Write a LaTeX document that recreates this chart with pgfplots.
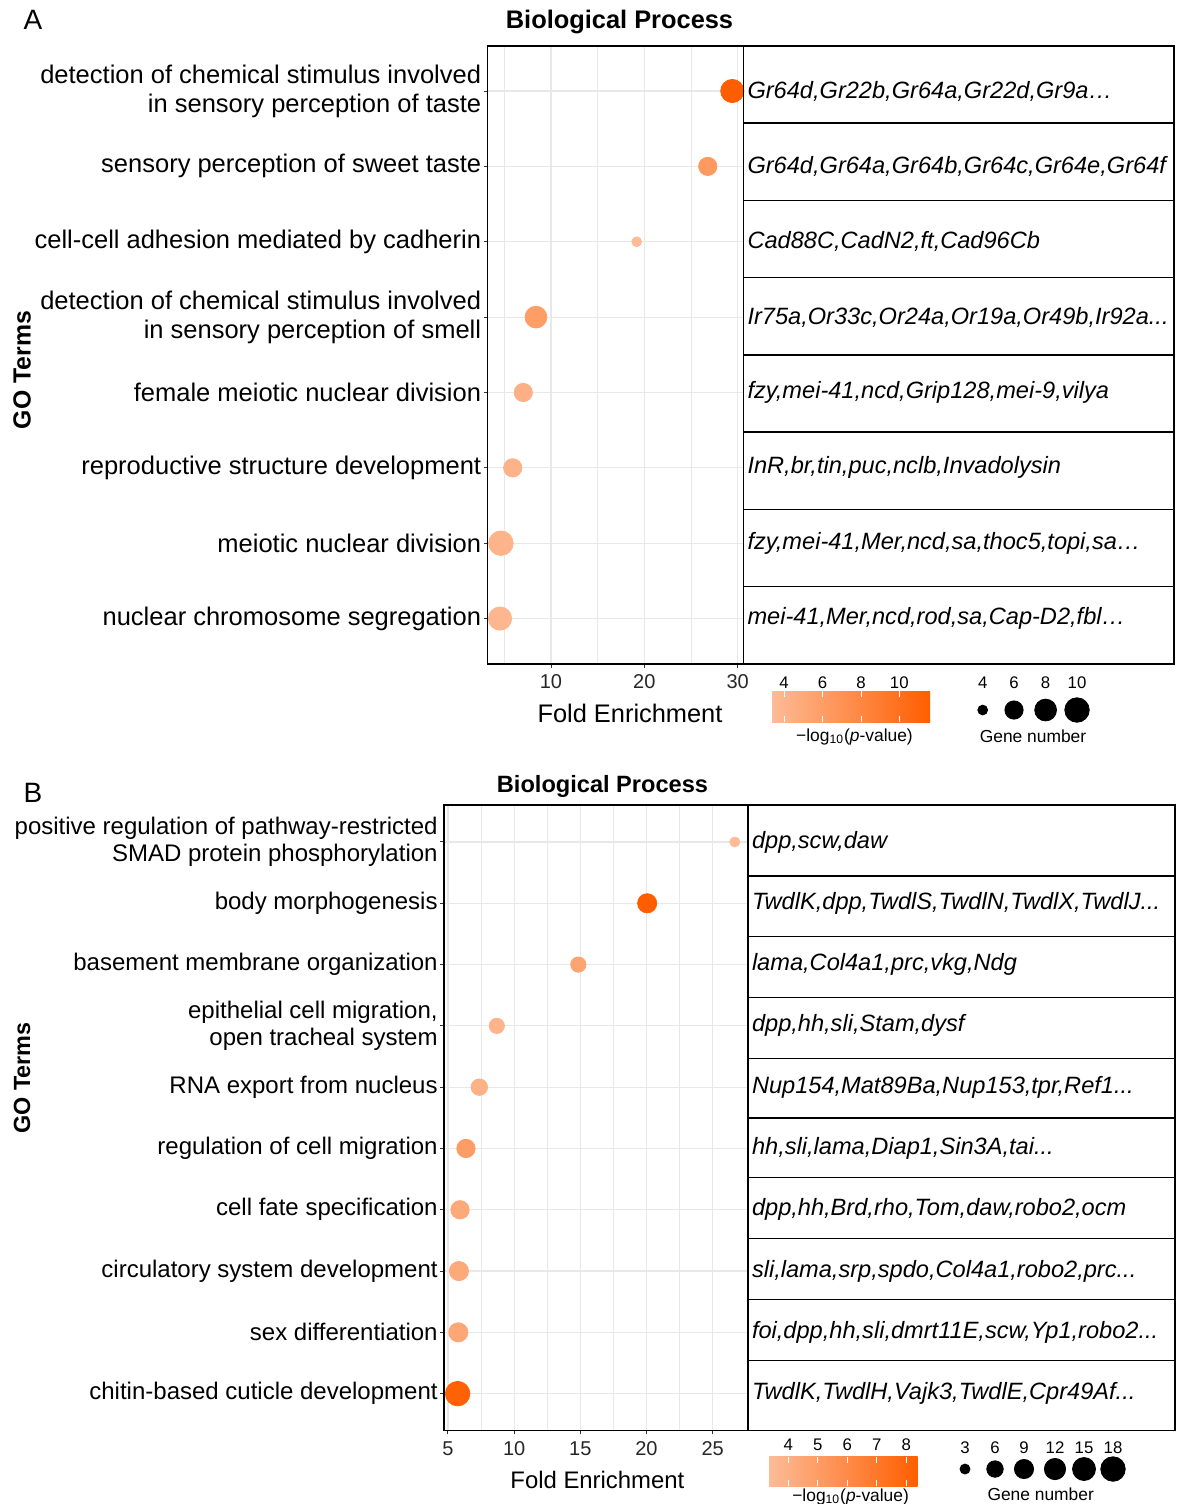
\documentclass[border=0pt]{standalone}
\usepackage{pgfplots}
\pgfplotsset{compat=1.18}
\usepackage{fontspec}
\setmainfont{Liberation Sans}
\definecolor{lo}{RGB}{253,187,151}
\definecolor{hi}{RGB}{255,94,0}
\definecolor{gridc}{RGB}{232,232,232}
\newcommand\fs[2]{\fontsize{#1}{#2}\selectfont}
\pgfplotsset{
 bubble/.style={
  scale only axis, clip=false,
  axis line style={line width=0.8pt},
  tick pos=left, tick align=outside, major tick length=2pt, minor tick length=0pt,
  tick style={line width=0.5pt, color=black!80},
  grid=both, major grid style={gridc, line width=0.6pt}, minor grid style={gridc, line width=0.45pt},
  /pgf/number format/assume math mode=true,
  xticklabel style={font=\fs{10}{12}, text=black!85},
  colormap={go}{rgb255=(253,187,151) rgb255=(255,94,0)},
 },
 gtable/.style={
  scale only axis, clip=false, xmin=0, xmax=1, xtick=\empty, ytick=\empty,
  axis line style={line width=0.8pt},
 },
}
\tikzset{
 gene/.style={anchor=west, font=\itshape\fs{11.8}{13}, inner xsep=1.8pt},
 lab/.style={font=\fs{8.4}{10}},
}
\begin{document}
\begin{tikzpicture}

% ---------------- Panel A ----------------
\begin{axis}[bubble, at={(243.75pt,-22.9pt)}, anchor=north west,
  width=128pt, height=309pt,
  xmin=3.198, xmax=30.62, ymin=0.4, ymax=8.6,
  xtick={10,20,30}, minor xtick={5,15,25},
  ytick={1,...,8},
  yticklabels={nuclear chromosome segregation, meiotic nuclear division, reproductive structure development, female meiotic nuclear division, {detection of chemical stimulus involved\\in sensory perception of smell}, cell-cell adhesion mediated by cadherin, sensory perception of sweet taste, {detection of chemical stimulus involved\\in sensory perception of taste}},
  yticklabel style={font=\fs{12.75}{14.5}, align=right, inner xsep=1pt},
  point meta min=3.37, point meta max=11.6]
\addplot[scatter, only marks, mark=*, scatter src=explicit,
  scatter/use mapped color={draw=mapped color, fill=mapped color},
  visualization depends on={(9.8+6*sqrt(\thisrow{n}-4))/4 \as \msz},
  scatter/@pre marker code/.append style={/tikz/mark size=\msz}]
 table[x=fe, y=pos, meta=lp]{
fe pos n lp
29.42 8 9 11.6
26.79 7 6 6.3
19.18 6 4 3.37
8.39 5 8 6.0
7.03 4 6 4.3
5.90 3 6 4.2
4.64 2 10 4.0
4.54 1 9 3.8
};
\end{axis}

\begin{axis}[gtable, at={(371.75pt,-22.9pt)}, anchor=north west,
  width=215.25pt, height=309pt, ymin=0.4, ymax=8.6]
\draw[line width=0.75pt] (rel axis cs:0,0.125) -- (rel axis cs:1,0.125);
\draw[line width=0.75pt] (rel axis cs:0,0.25) -- (rel axis cs:1,0.25);
\draw[line width=0.75pt] (rel axis cs:0,0.375) -- (rel axis cs:1,0.375);
\draw[line width=0.75pt] (rel axis cs:0,0.5) -- (rel axis cs:1,0.5);
\draw[line width=0.75pt] (rel axis cs:0,0.625) -- (rel axis cs:1,0.625);
\draw[line width=0.75pt] (rel axis cs:0,0.75) -- (rel axis cs:1,0.75);
\draw[line width=0.75pt] (rel axis cs:0,0.875) -- (rel axis cs:1,0.875);
\node[gene] at (axis cs:0,8) {Gr64d,Gr22b,Gr64a,Gr22d,Gr9a…};
\node[gene] at (axis cs:0,7) {Gr64d,Gr64a,Gr64b,Gr64c,Gr64e,Gr64f};
\node[gene] at (axis cs:0,6) {Cad88C,CadN2,ft,Cad96Cb};
\node[gene] at (axis cs:0,5) {Ir75a,Or33c,Or24a,Or19a,Or49b,Ir92a...};
\node[gene] at (axis cs:0,4) {fzy,mei-41,ncd,Grip128,mei-9,vilya};
\node[gene] at (axis cs:0,3) {InR,br,tin,puc,nclb,Invadolysin};
\node[gene] at (axis cs:0,2) {fzy,mei-41,Mer,ncd,sa,thoc5,topi,sa…};
\node[gene] at (axis cs:0,1) {mei-41,Mer,ncd,rod,sa,Cap-D2,fbl…};
\end{axis}

% ---------------- Panel B ----------------
\begin{axis}[bubble, at={(222pt,-402.6pt)}, anchor=north west,
  width=152pt, height=312.6pt,
  xmin=4.70, xmax=27.67, ymin=0.4, ymax=10.6,
  xtick={5,10,15,20,25}, minor xtick={7.5,12.5,17.5,22.5},
  ytick={1,...,10},
  yticklabels={chitin-based cuticle development, sex differentiation, circulatory system development, cell fate specification, regulation of cell migration, RNA export from nucleus, {epithelial cell migration,\\open tracheal system}, basement membrane organization, body morphogenesis, {positive regulation of pathway-restricted\\SMAD protein phosphorylation}},
  yticklabel style={font=\fs{12}{13.5}, align=right, inner xsep=1pt},
  point meta min=3.35, point meta max=8.38]
\addplot[scatter, only marks, mark=*, scatter src=explicit,
  scatter/use mapped color={draw=mapped color, fill=mapped color},
  visualization depends on={(10+3.75*sqrt(\thisrow{n}-3))/4 \as \msz},
  scatter/@pre marker code/.append style={/tikz/mark size=\msz}]
 table[x=fe, y=pos, meta=lp]{
fe pos n lp
26.67 10 3 3.35
20.05 9 9 8.38
14.85 8 5 4.6
8.69 7 5 3.7
7.37 6 6 3.9
6.36 5 8 5.0
5.91 4 8 4.3
5.83 3 9 4.3
5.78 2 9 4.4
5.73 1 18 8.2
};
\end{axis}

\begin{axis}[gtable, at={(374pt,-402.6pt)}, anchor=north west,
  width=213.5pt, height=312.6pt, ymin=0.4, ymax=10.6]
\draw[line width=0.75pt] (axis cs:0,9.445) -- (axis cs:1,9.445);
\draw[line width=0.75pt] (axis cs:0,8.455) -- (axis cs:1,8.455);
\draw[line width=0.75pt] (axis cs:0,7.461) -- (axis cs:1,7.461);
\draw[line width=0.75pt] (axis cs:0,6.465) -- (axis cs:1,6.465);
\draw[line width=0.75pt] (axis cs:0,5.497) -- (axis cs:1,5.497);
\draw[line width=0.75pt] (axis cs:0,4.523) -- (axis cs:1,4.523);
\draw[line width=0.75pt] (axis cs:0,3.530) -- (axis cs:1,3.530);
\draw[line width=0.75pt] (axis cs:0,2.535) -- (axis cs:1,2.535);
\draw[line width=0.75pt] (axis cs:0,1.540) -- (axis cs:1,1.540);
\node[gene] at (axis cs:0,10) {dpp,scw,daw};
\node[gene] at (axis cs:0,9) {TwdlK,dpp,TwdlS,TwdlN,TwdlX,TwdlJ...};
\node[gene] at (axis cs:0,8) {lama,Col4a1,prc,vkg,Ndg};
\node[gene] at (axis cs:0,7) {dpp,hh,sli,Stam,dysf};
\node[gene] at (axis cs:0,6) {Nup154,Mat89Ba,Nup153,tpr,Ref1...};
\node[gene] at (axis cs:0,5) {hh,sli,lama,Diap1,Sin3A,tai...};
\node[gene] at (axis cs:0,4) {dpp,hh,Brd,rho,Tom,daw,robo2,ocm};
\node[gene] at (axis cs:0,3) {sli,lama,srp,spdo,Col4a1,robo2,prc...};
\node[gene] at (axis cs:0,2) {foi,dpp,hh,sli,dmrt11E,scw,Yp1,robo2...};
\node[gene] at (axis cs:0,1) {TwdlK,TwdlH,Vajk3,TwdlE,Cpr49Af...};
\end{axis}

% ---------------- Overlay (titles, legends), pixel coordinates ----------------
\begin{axis}[at={(0pt,0pt)}, anchor=north west, scale only axis, width=588.5pt, height=752pt,
  xmin=0, xmax=1177, ymin=0, ymax=1504, y dir=reverse, hide axis, clip=false]
% Panel A texts
\node[font=\fs{14}{16}] at (axis cs:33,20) {A};
\node[font=\bfseries\fs{12.7}{15}] at (axis cs:619.5,22) {Biological Process};
\node[font=\bfseries\fs{12.4}{15}, rotate=90] at (axis cs:22,370) {GO Terms};
\node[font=\fs{12.7}{15}] at (axis cs:630,713) {Fold Enrichment};
\shade[left color=lo, right color=hi] (axis cs:772,691) rectangle (axis cs:930,722);
\draw[white, line width=0.5pt] (axis cs:784,691) -- (axis cs:784,697) (axis cs:784,716) -- (axis cs:784,722);
\draw[white, line width=0.5pt] (axis cs:822.5,691) -- (axis cs:822.5,697) (axis cs:822.5,716) -- (axis cs:822.5,722);
\draw[white, line width=0.5pt] (axis cs:861,691) -- (axis cs:861,697) (axis cs:861,716) -- (axis cs:861,722);
\draw[white, line width=0.5pt] (axis cs:899.3,691) -- (axis cs:899.3,697) (axis cs:899.3,716) -- (axis cs:899.3,722);
\node[lab] at (axis cs:784,683) {4};
\node[lab] at (axis cs:822.5,683) {6};
\node[lab] at (axis cs:861,683) {8};
\node[lab] at (axis cs:899.3,683) {10};
\node[font=\fs{8.7}{10}] at (axis cs:854.5,737) {−log\textsubscript{10}(\textit{p}-value)};
\node[lab] at (axis cs:982.7,683) {4};
\node[lab] at (axis cs:1014,683) {6};
\node[lab] at (axis cs:1045.6,683) {8};
\node[lab] at (axis cs:1077,683) {10};
\node[font=\fs{8.7}{10}] at (axis cs:1033,736) {Gene number};
\addplot[scatter, only marks, mark=*, scatter src=explicit,
  scatter/use mapped color={draw=black, fill=black},
  visualization depends on={(9.8+6*sqrt(\thisrow{n}-4))/4 \as \msz},
  scatter/@pre marker code/.append style={/tikz/mark size=\msz}]
 table[x=x, y=y, meta=n]{
x y n
982.7 710 4
1014 710 6
1045.6 710 8
1077 710 10
};
% Panel B texts
\node[font=\fs{14}{16}] at (axis cs:33,793) {B};
\node[font=\bfseries\fs{11.8}{14}] at (axis cs:602.5,786) {Biological Process};
\node[font=\bfseries\fs{11.7}{14}, rotate=90] at (axis cs:22,1078) {GO Terms};
\node[font=\fs{11.95}{14}] at (axis cs:597.4,1480) {Fold Enrichment};
\shade[left color=lo, right color=hi] (axis cs:769,1456.7) rectangle (axis cs:917.6,1486);
\draw[white, line width=0.5pt] (axis cs:788.2,1456.7) -- (axis cs:788.2,1462.5) (axis cs:788.2,1480.2) -- (axis cs:788.2,1486);
\draw[white, line width=0.5pt] (axis cs:817.7,1456.7) -- (axis cs:817.7,1462.5) (axis cs:817.7,1480.2) -- (axis cs:817.7,1486);
\draw[white, line width=0.5pt] (axis cs:847.3,1456.7) -- (axis cs:847.3,1462.5) (axis cs:847.3,1480.2) -- (axis cs:847.3,1486);
\draw[white, line width=0.5pt] (axis cs:876.8,1456.7) -- (axis cs:876.8,1462.5) (axis cs:876.8,1480.2) -- (axis cs:876.8,1486);
\draw[white, line width=0.5pt] (axis cs:906.4,1456.7) -- (axis cs:906.4,1462.5) (axis cs:906.4,1480.2) -- (axis cs:906.4,1486);
\node[lab] at (axis cs:788.2,1445) {4};
\node[lab] at (axis cs:817.7,1445) {5};
\node[lab] at (axis cs:847.3,1445) {6};
\node[lab] at (axis cs:876.8,1445) {7};
\node[lab] at (axis cs:906.4,1445) {8};
\node[font=\fs{8.7}{10}] at (axis cs:850.6,1497) {−log\textsubscript{10}(\textit{p}-value)};
\node[lab] at (axis cs:965,1448) {3};
\node[lab] at (axis cs:995,1448) {6};
\node[lab] at (axis cs:1024,1448) {9};
\node[lab] at (axis cs:1055,1448) {12};
\node[lab] at (axis cs:1084,1448) {15};
\node[lab] at (axis cs:1113,1448) {18};
\node[font=\fs{8.7}{10}] at (axis cs:1040.7,1494) {Gene number};
\addplot[scatter, only marks, mark=*, scatter src=explicit,
  scatter/use mapped color={draw=black, fill=black},
  visualization depends on={(10+3.75*sqrt(\thisrow{n}-3))/4 \as \msz},
  scatter/@pre marker code/.append style={/tikz/mark size=\msz}]
 table[x=x, y=y, meta=n]{
x y n
965 1469 3
995 1469 6
1024 1469 9
1055 1469 12
1084 1469 15
1113 1469 18
};
\end{axis}
\pgfresetboundingbox
\path[use as bounding box] (0pt,0pt) rectangle (588.5pt,-752pt);
\end{tikzpicture}
\end{document}
